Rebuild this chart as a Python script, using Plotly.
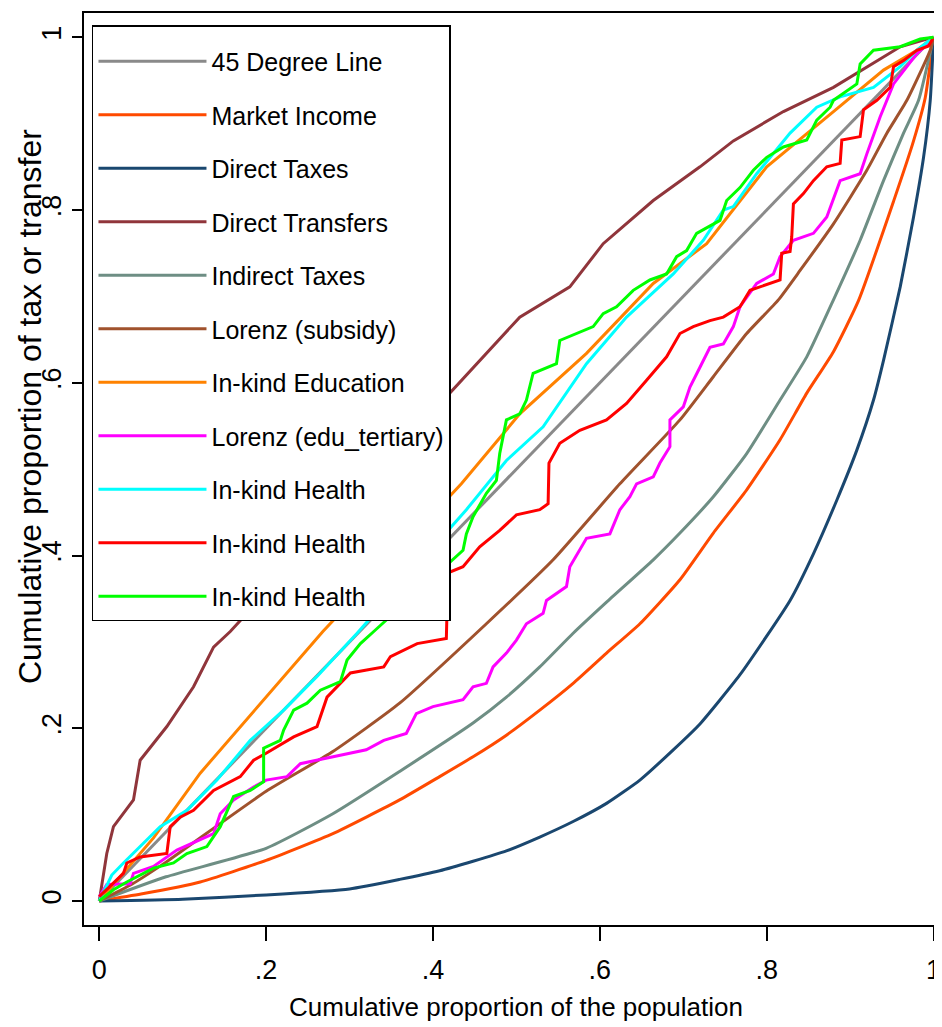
import plotly.graph_objects as go

# ---------------- data ----------------
x_ticks = [0, 0.2, 0.4, 0.6, 0.8, 1]
tick_text = ["0", ".2", ".4", ".6", ".8", "1"]

line45_x = [0, 1]
line45_y = [0, 1]

market_x = [0, 0.05, 0.121, 0.2, 0.28, 0.36, 0.408, 0.448, 0.488, 0.528, 0.568, 0.608, 0.648, 0.696, 0.736, 0.776,
            0.816, 0.848, 0.88, 0.91, 0.952, 0.976, 0.99, 1]
market_y = [0, 0.008, 0.022, 0.047, 0.078, 0.117, 0.144, 0.167, 0.192, 0.221, 0.252, 0.287, 0.321, 0.372, 0.426, 0.476,
            0.534, 0.588, 0.636, 0.695, 0.81, 0.88, 0.93, 1]

dtax_x = [0, 0.1, 0.2, 0.3, 0.36, 0.408, 0.448, 0.488, 0.528, 0.568, 0.608, 0.648, 0.688, 0.72, 0.768, 0.828, 0.856,
          0.884, 0.908, 0.928, 0.94, 0.96, 0.976, 0.988, 0.996, 1]
dtax_y = [0, 0.002, 0.007, 0.014, 0.025, 0.035, 0.046, 0.058, 0.074, 0.092, 0.113, 0.14, 0.175, 0.205, 0.262, 0.348, 0.402,
          0.464, 0.522, 0.58, 0.626, 0.711, 0.792, 0.861, 0.927, 1]

dtr_x = [0, 0.009, 0.017, 0.041, 0.049, 0.081, 0.113, 0.137, 0.157, 0.434, 0.504, 0.564, 0.604, 0.664, 0.72, 0.76, 0.82, 0.88, 0.92, 0.96, 0.992, 1]
dtr_y = [0, 0.055, 0.086, 0.117, 0.163, 0.202, 0.248, 0.294, 0.312, 0.603, 0.676, 0.711, 0.761, 0.811, 0.85, 0.88, 0.914, 0.942, 0.966, 0.989, 0.998, 1]

itax_x = [0, 0.08, 0.2, 0.28, 0.36, 0.448, 0.488, 0.528, 0.568, 0.608, 0.664, 0.696, 0.736, 0.776, 0.816, 0.848,
          0.88, 0.912, 0.94, 0.964, 0.982, 1]
itax_y = [0, 0.028, 0.061, 0.101, 0.15, 0.206, 0.236, 0.271, 0.31, 0.346, 0.395, 0.426, 0.468, 0.518, 0.58, 0.63,
          0.696, 0.765, 0.834, 0.889, 0.927, 1]

subs_x = [0, 0.04, 0.08, 0.2, 0.28, 0.36, 0.464, 0.544, 0.624, 0.696, 0.736, 0.776, 0.814, 0.84, 0.88, 0.92, 0.944, 0.968, 0.996, 1]
subs_y = [0, 0.02, 0.045, 0.127, 0.173, 0.229, 0.321, 0.395, 0.483, 0.557, 0.607, 0.657, 0.696, 0.73, 0.784, 0.846, 0.889, 0.927, 0.985, 1]

edu_x = [0, 0.065, 0.121, 0.2, 0.268, 0.434, 0.504, 0.584, 0.664, 0.728, 0.8, 0.88, 0.94, 0.98, 1]
edu_y = [0, 0.073, 0.148, 0.236, 0.312, 0.483, 0.564, 0.634, 0.715, 0.761, 0.85, 0.914, 0.962, 0.985, 1]

tert_x = [0, 0.009, 0.037, 0.041, 0.065, 0.093, 0.137, 0.145, 0.161, 0.185, 0.2, 0.225, 0.241, 0.28, 0.32, 0.341,
          0.368, 0.38, 0.4, 0.436, 0.448, 0.464, 0.472, 0.488, 0.5, 0.512, 0.532, 0.536, 0.56, 0.564, 0.576,
          0.584, 0.612, 0.624, 0.636, 0.644, 0.664, 0.672, 0.684, 0.684, 0.7, 0.708, 0.72, 0.732, 0.748, 0.76,
          0.768, 0.788, 0.808, 0.816, 0.832, 0.856, 0.872, 0.888, 0.912, 0.92, 0.936, 0.952, 0.968, 0.98, 0.996, 1]
tert_y = [0.005, 0.019, 0.02, 0.032, 0.04, 0.059, 0.078, 0.101, 0.117, 0.132, 0.14, 0.144, 0.159, 0.167, 0.175, 0.186,
          0.194, 0.217, 0.225, 0.233, 0.248, 0.252, 0.271, 0.287, 0.302, 0.321, 0.333, 0.348, 0.364, 0.387, 0.406,
          0.42, 0.425, 0.453, 0.468, 0.483, 0.491, 0.507, 0.526, 0.557, 0.572, 0.595, 0.618, 0.641, 0.645, 0.665,
          0.688, 0.715, 0.726, 0.746, 0.765, 0.773, 0.792, 0.834, 0.842, 0.865, 0.908, 0.946, 0.966, 0.981, 0.995, 1]

cyan_x = [0, 0.015, 0.029, 0.073, 0.105, 0.141, 0.181, 0.221, 0.261, 0.309, 0.44, 0.488, 0.532, 0.584, 0.632,
          0.688, 0.724, 0.748, 0.76, 0.788, 0.828, 0.86, 0.888, 0.928, 0.96, 0.98, 1]
cyan_y = [0, 0.03, 0.044, 0.086, 0.105, 0.14, 0.186, 0.221, 0.26, 0.31, 0.453, 0.51, 0.549, 0.622, 0.676,
          0.726, 0.765, 0.8, 0.804, 0.842, 0.889, 0.919, 0.931, 0.942, 0.966, 0.985, 1]

red_x = [0, 0.029, 0.033, 0.049, 0.081, 0.085, 0.097, 0.113, 0.137, 0.169, 0.185, 0.2, 0.233, 0.261, 0.273, 0.293,
         0.301, 0.341, 0.349, 0.381, 0.416, 0.418, 0.436, 0.456, 0.48, 0.5, 0.528, 0.538, 0.539, 0.552, 0.576,
         0.608, 0.632, 0.656, 0.68, 0.696, 0.712, 0.732, 0.748, 0.768, 0.78, 0.816, 0.818, 0.828, 0.83, 0.832,
         0.844, 0.856, 0.872, 0.888, 0.89, 0.912, 0.916, 0.932, 0.948, 0.952, 0.964, 0.98, 0.994, 1]
red_y = [0.005, 0.032, 0.044, 0.051, 0.055, 0.086, 0.097, 0.105, 0.128, 0.144, 0.163, 0.171, 0.19, 0.202, 0.236, 0.256,
         0.264, 0.271, 0.283, 0.298, 0.304, 0.38, 0.387, 0.41, 0.429, 0.447, 0.453, 0.46, 0.507, 0.53, 0.545,
         0.557, 0.576, 0.603, 0.63, 0.657, 0.665, 0.672, 0.676, 0.688, 0.707, 0.719, 0.75, 0.752, 0.769, 0.807,
         0.819, 0.834, 0.85, 0.854, 0.881, 0.885, 0.916, 0.927, 0.942, 0.966, 0.973, 0.985, 0.99, 1]

green_x = [0, 0.017, 0.033, 0.065, 0.089, 0.105, 0.129, 0.145, 0.161, 0.181, 0.197, 0.197, 0.217, 0.221, 0.233,
           0.249, 0.265, 0.289, 0.297, 0.313, 0.329, 0.436, 0.44, 0.448, 0.464, 0.476, 0.48, 0.488, 0.504, 0.512,
           0.52, 0.548, 0.552, 0.572, 0.592, 0.604, 0.62, 0.64, 0.66, 0.68, 0.692, 0.704, 0.716, 0.744, 0.752,
           0.768, 0.784, 0.8, 0.82, 0.848, 0.86, 0.876, 0.88, 0.908, 0.912, 0.928, 0.96, 0.984, 1]
green_y = [0, 0.013, 0.022, 0.038, 0.044, 0.055, 0.063, 0.086, 0.121, 0.128, 0.138, 0.177, 0.186, 0.198, 0.221,
           0.229, 0.244, 0.254, 0.279, 0.298, 0.312, 0.406, 0.425, 0.445, 0.472, 0.487, 0.518, 0.557, 0.564, 0.58,
           0.611, 0.622, 0.649, 0.657, 0.665, 0.68, 0.688, 0.707, 0.719, 0.726, 0.746, 0.753, 0.773, 0.788, 0.811,
           0.826, 0.846, 0.861, 0.873, 0.881, 0.904, 0.919, 0.927, 0.946, 0.969, 0.985, 0.989, 0.998, 1]

series = [
    ("45 Degree Line", line45_x, line45_y, "#8a8a8a", "linear"),
    ("Market Income", market_x, market_y, "#ff4a00", "spline"),
    ("Direct Taxes", dtax_x, dtax_y, "#1a476f", "spline"),
    ("Direct Transfers", dtr_x, dtr_y, "#90353b", "linear"),
    ("Indirect Taxes", itax_x, itax_y, "#6e8e84", "spline"),
    ("Lorenz (subsidy)", subs_x, subs_y, "#a0522d", "spline"),
    ("In-kind Education", edu_x, edu_y, "#ff8200", "linear"),
    ("Lorenz (edu_tertiary)", tert_x, tert_y, "#ff00ff", "linear"),
    ("In-kind Health", cyan_x, cyan_y, "#00ffff", "linear"),
    ("In-kind Health", red_x, red_y, "#ff0000", "linear"),
    ("In-kind Health", green_x, green_y, "#00ff00", "linear"),
]

FONT = "Liberation Sans, Arial, Helvetica, sans-serif"

fig = go.Figure()
for i, (name, xs, ys, col, shape) in enumerate(series):
    line = dict(color=col, width=3, shape=shape)
    if shape == "spline":
        line["smoothing"] = 0.5
    fig.add_trace(go.Scatter(x=xs, y=ys, mode="lines", name=name,
                             line=line, legendgroup="g%d" % i))

fig.update_layout(
    width=934, height=1019,
    margin=dict(l=76, r=0, t=5, b=102),
    paper_bgcolor="white", plot_bgcolor="white",
    showlegend=True,
    legend=dict(
        x=0.0093, y=0.9865, xanchor="left", yanchor="top",
        bgcolor="white", bordercolor="black", borderwidth=1.5,
        font=dict(family=FONT, size=25, color="black"),
        itemwidth=108, tracegroupgap=18,
        title=dict(text=" ", font=dict(family=FONT, size=9)),
    ),
    xaxis=dict(
        range=[-0.0183, 1.0101], tickvals=x_ticks, ticktext=tick_text,
        showgrid=False, zeroline=False,
        showline=True, linecolor="black", linewidth=2, mirror=True,
        ticks="outside", ticklen=14, tickwidth=1.5, tickcolor="black",
        ticklabeloverflow="allow", ticklabelstandoff=6,
        tickfont=dict(family=FONT, size=27, color="black"),
    ),
    yaxis=dict(
        range=[-0.0278, 1.0281], tickvals=x_ticks, ticktext=tick_text,
        showgrid=False, zeroline=False,
        showline=True, linecolor="black", linewidth=2,
        ticks="outside", ticklen=10, tickwidth=1.5, tickcolor="black",
        tickangle=-90, ticklabelstandoff=0,
        tickfont=dict(family=FONT, size=27, color="black"),
    ),
    annotations=[
        dict(text="Cumulative proportion of the population", xref="paper", yref="paper",
             x=0.5035, y=-0.0899, xanchor="center", yanchor="middle", showarrow=False,
             font=dict(family=FONT, size=26, color="black")),
        dict(text="Cumulative proportion of tax or transfer", xref="paper", yref="paper",
             x=-0.0629, y=0.568, xanchor="center", yanchor="middle", showarrow=False,
             textangle=-90, font=dict(family=FONT, size=32, color="black")),
    ],
)

fig.write_html("out.html")
